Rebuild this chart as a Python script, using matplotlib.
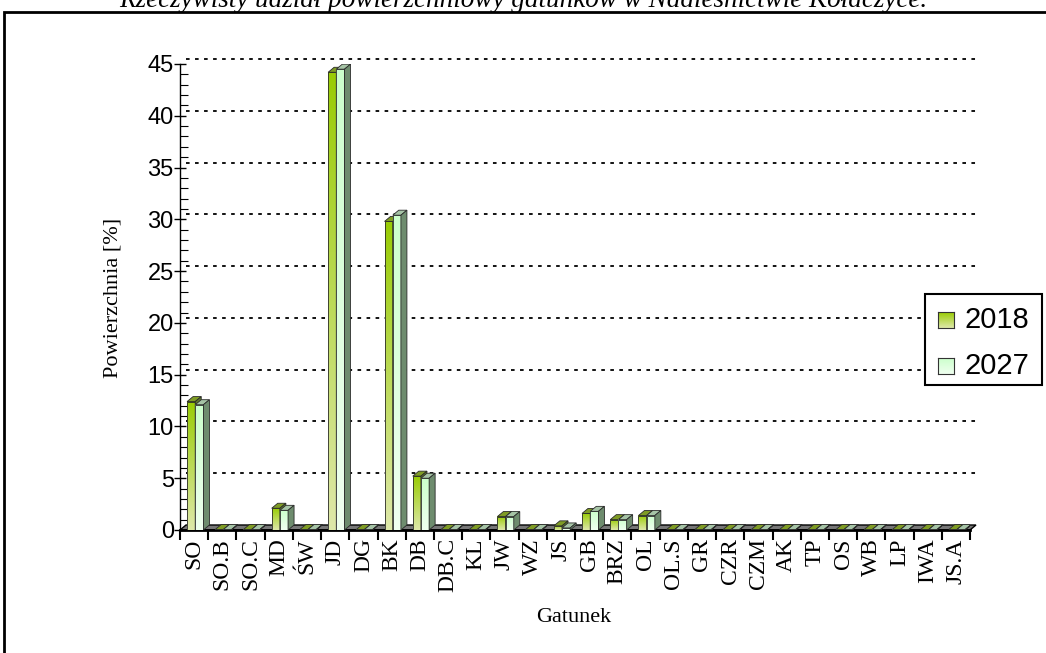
import numpy as np
import matplotlib
matplotlib.use("Agg")
import matplotlib.pyplot as plt
from matplotlib.patches import Polygon, Rectangle

gatunki = ["SO", "SO.B", "SO.C", "MD", "ŚW", "JD", "DG", "BK", "DB", "DB.C",
           "KL", "JW", "WZ", "JS", "GB", "BRZ", "OL", "OL.S", "GR", "CZR",
           "CZM", "AK", "TP", "OS", "WB", "LP", "IWA", "JS.A"]
udzial_2018 = [12.4, 0.05, 0.05, 2.1, 0.05, 44.2, 0.05, 29.8, 5.2, 0.05,
               0.05, 1.3, 0.05, 0.4, 1.6, 1.0, 1.4, 0.05, 0.05, 0.05,
               0.05, 0.05, 0.05, 0.05, 0.05, 0.05, 0.05, 0.05]
udzial_2027 = [12.1, 0.05, 0.05, 1.9, 0.05, 44.5, 0.05, 30.4, 5.0, 0.05,
               0.05, 1.3, 0.05, 0.2, 1.8, 1.0, 1.4, 0.05, 0.05, 0.05,
               0.05, 0.05, 0.05, 0.05, 0.05, 0.05, 0.05, 0.05]
lata = ["2018", "2027"]

SERIF = "Liberation Serif"
SANS = "Liberation Sans"

W, H = 1046, 653
fig = plt.figure(figsize=(W / 100, H / 100), dpi=100)
ax = fig.add_axes([180 / W, (H - 530) / H, 790 / W, 466 / H])
n = len(gatunki)
ax.set_xlim(0, n)
ax.set_ylim(0, 45)

# depth of the 3D effect, in data units (6 px right, 5 px up)
sx = 790 / n
sy = 466 / 45
DX, DY = 6 / sx, 5 / sy

# kolory: (gora, dol) przodu, wierzch, bok
style = {
    "2018": dict(top=(0.60, 0.80, 0.02), bot=(0.87, 0.91, 0.66),
                 cap="#7f9c24", side="#5f7a2a"),
    "2027": dict(top=(0.80, 1.00, 0.80), bot=(0.94, 1.00, 0.94),
                 cap="#a6c4a6", side="#6e8c6e"),
}
EDGE = "#2a2a2a"


def gradient(x0, x1, y1, c_top, c_bot, z):
    t = np.linspace(0, 1, 64)[:, None]
    img = np.array(c_top)[None, :] * (1 - t) + np.array(c_bot)[None, :] * t
    ax.imshow(img[:, None, :], extent=[x0, x1, 0, y1], origin="upper",
              aspect="auto", interpolation="bilinear", zorder=z)


def bar3d(x0, w, v, st, z):
    gradient(x0, x0 + w, v, st["top"], st["bot"], z)
    ax.add_patch(Rectangle((x0, 0), w, v, fill=False, ec=EDGE, lw=0.6, zorder=z))
    ax.add_patch(Polygon([(x0, v), (x0 + w, v), (x0 + w + DX, v + DY), (x0 + DX, v + DY)],
                         fc=st["cap"], ec=EDGE, lw=0.6, zorder=z))
    ax.add_patch(Polygon([(x0 + w, 0), (x0 + w + DX, DY), (x0 + w + DX, v + DY), (x0 + w, v)],
                         fc=st["side"], ec=EDGE, lw=0.6, zorder=z))


# back-wall grid
for g in range(5, 50, 5):
    ax.plot([DX, n + DX], [g + DY, g + DY], color="black", lw=1.3,
            ls=(0, (2, 3)), zorder=1, clip_on=False)

# floor
ax.add_patch(Polygon([(0, 0), (n, 0), (n + DX, DY), (DX, DY)],
                     fc="#777777", ec="black", lw=1, zorder=2, clip_on=False))

w = 0.29
for i in range(n):
    x0 = i + 0.25
    bar3d(x0, w, udzial_2018[i], style["2018"], 3)
    bar3d(x0 + w, w, udzial_2027[i], style["2027"], 3)

ax.set_xlim(0, n)
ax.set_ylim(0, 45)

for s in ["top", "right"]:
    ax.spines[s].set_visible(False)
ax.spines["bottom"].set_linewidth(2)
ax.spines["left"].set_linewidth(1)

ax.set_yticks(range(0, 50, 5))
ax.set_yticks(range(0, 46), minor=True)
ax.tick_params(axis="y", which="major", direction="inout", length=9, width=1,
               labelsize=17, pad=0)
ax.tick_params(axis="y", which="minor", direction="in", length=6, width=0.8)
for lab in ax.get_yticklabels():
    lab.set_family(SANS)

ax.set_xticks(range(n + 1))
ax.set_xticklabels([])
ax.tick_params(axis="x", which="major", direction="out", length=7, width=1.5)
ax.set_xticks(np.arange(n) + 0.5, minor=True)
ax.set_xticklabels(gatunki, minor=True, rotation=90, fontsize=17, family=SERIF)
ax.tick_params(axis="x", which="minor", length=0, pad=6)

fig.text(113 / W, 1 - 298 / H, "Powierzchnia [%]", rotation=90, ha="center",
         va="center", fontsize=16, family=SERIF)
fig.text(574 / W, 1 - 617 / H, "Gatunek", ha="center", va="center",
         fontsize=16, family=SERIF)
fig.text(0.5, 1 - 7 / H,
         "Rzeczywisty udział powierzchniowy gatunków w Nadleśnictwie Kołaczyce.",
         ha="center", va="baseline", fontsize=19.5, style="italic", family=SERIF)

# ramka wokol wykresu
fig.patches.append(Rectangle((4 / W, -0.05), 1.1, (H - 12) / H + 0.05,
                             transform=fig.transFigure, fill=False, ec="black",
                             lw=2))

# legenda
fig.patches.append(Rectangle((925 / W, 1 - 385 / H), 117 / W, 91 / H,
                             transform=fig.transFigure, fc="white", ec="black",
                             lw=1.5, zorder=5))
for rok, ytop in zip(lata, [312, 358]):
    st = style[rok]
    lax = fig.add_axes([938 / W, 1 - (ytop + 16) / H, 16 / W, 16 / H], zorder=6)
    t = np.linspace(0, 1, 32)[:, None]
    img = np.array(st["top"])[None, :] * (1 - t) + np.array(st["bot"])[None, :] * t
    lax.imshow(img[:, None, :], aspect="auto", interpolation="bilinear")
    lax.set_xticks([])
    lax.set_yticks([])
    for sp in lax.spines.values():
        sp.set_color("#333333")
        sp.set_linewidth(0.8)
    fig.text(965 / W, 1 - (ytop + 8) / H, rok, ha="left", va="center",
             fontsize=21, family=SANS, zorder=7)

fig.savefig("out.png", dpi=100)
